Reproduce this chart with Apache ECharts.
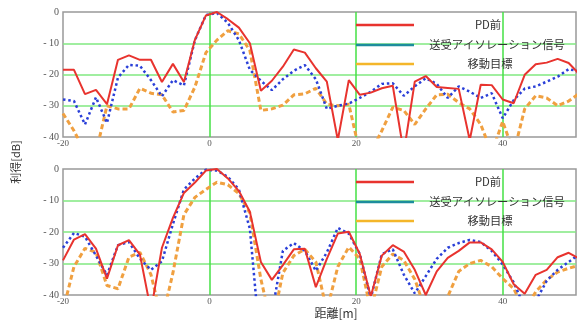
<!DOCTYPE html>
<html>
<head>
<meta charset="utf-8">
<script src="https://cdn.jsdelivr.net/npm/echarts@6/dist/echarts.min.js"></script>
<style>
  html, body { margin: 0; padding: 0; background: #fff; }
  #chart { width: 577px; height: 320px; }
</style>
</head>
<body>
<div id="chart"></div>
<script>
// sample positions along range [m]
const distance = [-20, -18.5, -17, -15.5, -14, -12.5, -11, -9.5, -8, -6.5, -5, -3.5, -2, -0.5,
  1, 2.5, 4, 5.5, 7, 8.5, 10, 11.5, 13, 14.5, 16, 17.5, 19, 20.5, 22, 23.5, 25, 26.5, 28, 29.5,
  31, 32.5, 34, 35.5, 37, 38.5, 40, 41.5, 43, 44.5, 46, 47.5, 49, 50.5];

// upper panel [dB]
const upperPd = [-18.5, -18.5, -26.3, -24.9, -29.5, -15.3, -13.9, -15.3, -15.3, -22.4, -16.6, -22.4, -8.9, -1.1,
  0, -2.3, -5, -10, -25.2, -22, -17.5, -12, -13, -18, -22.3, -41, -21.8, -26.5, -25.8, -24.4, -23.6, -45, -22.3, -20.5,
  -24, -24.3, -24.6, -41, -23.3, -23.4, -28, -29.2, -20.1, -16.7, -16.2, -15, -16.3, -20];
const upperIso = [-28, -28.5, -36, -27.3, -35.5, -21, -16.9, -17.2, -21.8, -27, -21.8, -23.5, -9, -1,
  -0.3, -3.5, -9, -18.5, -22, -25, -21.5, -18.8, -17, -21.5, -31, -30, -29.3, -27.5, -25.5, -23, -22.8, -26.8, -23.8, -21.2,
  -23, -27.5, -23.8, -25.5, -27.5, -26, -34, -28.2, -24.5, -23.8, -22.3, -20.7, -18.3, -19];
const upperTarget = [-32.5, -38, -45, -45, -30, -31, -31, -24.4, -26, -26.5, -32, -31.5, -24, -13,
  -9, -6, -7, -12.3, -31.5, -31, -29.8, -26.5, -26.2, -24.4, -29.5, -30, -29.5, -45, -45, -38, -30.5, -31.5, -36, -31,
  -26.5, -26.3, -29, -31, -36, -45, -35, -45, -31, -26.8, -27.5, -30, -28.5, -26];

// lower panel [dB]
const lowerPd = [-29, -22.4, -20.7, -25.3, -34.8, -24.2, -22.6, -27.2, -45, -25, -15.5, -7.6, -4.3, -0.5,
  0, -3, -7, -13.6, -29.5, -35.2, -30.5, -25.5, -25.3, -37.5, -28.5, -20.5, -19.9, -27, -40.5, -27.5, -24.2, -26.2, -32, -40,
  -32.5, -28.2, -26, -23.3, -23.3, -25.5, -29.5, -36.6, -39.6, -33.6, -32, -28, -26.6, -28.5];
const lowerIso = [-25, -20.3, -21.5, -27.5, -33.7, -24.2, -23.2, -28.5, -32, -29.3, -17.5, -6.5, -3, -0.2,
  -0.5, -2.5, -6.5, -19, -58, -46, -26, -23.5, -26, -32.3, -26.5, -18.7, -20.5, -27, -41, -27, -25.5, -33.5, -39.5, -34,
  -28.5, -25, -23.5, -22.5, -23.2, -26, -30.3, -36, -44, -42, -35.5, -32, -29.5, -27];
const lowerTarget = [-45, -31, -25.2, -26.5, -37, -38, -28, -26.5, -33.5, -48, -33, -14.5, -9, -6.5,
  -4.2, -5, -7.8, -14, -35, -50, -33, -27.5, -25.5, -29.5, -45, -31, -24.8, -28.5, -45, -31, -27, -29, -35, -45,
  -48, -40.5, -32.5, -30, -29, -31, -34.8, -38, -45, -39, -35.2, -32.7, -31.5, -30.5];

const legendNames = ['PD前', '送受アイソレーション信号', '移動目標'];
const xTicks = { min: -20, max: 50, interval: 20 };
const yTicks = { min: -40, max: 0, interval: 10 };

const chart = echarts.init(document.getElementById('chart'), null, { renderer: 'canvas' });

const pairs = arr => distance.map((d, i) => [d, arr[i]]);

function xAxisFor(gridIndex) {
  return {
    type: 'value',
    gridIndex,
    min: xTicks.min,
    max: xTicks.max,
    interval: xTicks.interval,
    axisLine: { show: false },
    axisTick: { show: false },
    axisLabel: {
      color: '#555',
      fontFamily: 'Liberation Serif',
      fontSize: 9,
      margin: 2,
      showMaxLabel: false
    },
    splitLine: {
      show: true,
      showMinLine: false,
      showMaxLine: false,
      lineStyle: { color: '#44e044', width: 1.5 }
    }
  };
}

function yAxisFor(gridIndex) {
  return {
    type: 'value',
    gridIndex,
    min: yTicks.min,
    max: yTicks.max,
    interval: yTicks.interval,
    axisLine: { show: false },
    axisTick: { show: false },
    axisLabel: {
      color: '#555',
      fontFamily: 'Liberation Serif',
      fontSize: 10,
      margin: 4,
      formatter: v => (v === 0 ? '0' : '- ' + Math.abs(v))
    },
    splitLine: {
      show: true,
      showMinLine: false,
      showMaxLine: false,
      lineStyle: { color: '#80e880', width: 1.5 }
    }
  };
}

const styles = [
  { color: '#e8332e', width: 2, type: 'solid' },
  { color: '#2a3fd8', width: 2.5, type: [2.5, 2.8] },
  { color: '#f0a040', width: 3, type: [5, 3] }
];

function seriesFor(gridIndex, arrays) {
  return arrays.map((arr, k) => ({
    name: legendNames[k],
    type: 'line',
    xAxisIndex: gridIndex,
    yAxisIndex: gridIndex,
    data: pairs(arr),
    showSymbol: false,
    silent: true,
    clip: true,
    z: 3 - k,
    lineStyle: styles[k]
  }));
}

const legendColors = ['#e8332e', '#1c8c9c', '#f4b62a'];
const legendRows = [[25, 45, 64], [182, 202, 221]];

function legendGraphics() {
  const out = [];
  legendRows.forEach(rows => {
    rows.forEach((y, k) => {
      out.push({
        type: 'line',
        shape: { x1: 356, y1: y, x2: 414, y2: y },
        style: { stroke: legendColors[k], lineWidth: 2.5 },
        z: 10
      });
      out.push({
        type: 'text',
        style: {
          text: legendNames[k],
          x: k === 0 ? 488 : (k === 1 ? 497 : 490),
          y: y,
          align: 'center',
          verticalAlign: 'middle',
          fill: '#333',
          font: '11.3px "Noto Sans CJK JP"'
        },
        z: 10
      });
    });
  });
  out.push({
    type: 'text',
    rotation: Math.PI / 2,
    x: 16,
    y: 162,
    style: {
      text: '利得[dB]',
      align: 'center',
      verticalAlign: 'middle',
      fill: '#333',
      font: '11px "Noto Sans CJK JP"'
    }
  });
  out.push({
    type: 'text',
    style: {
      text: '距離[m]',
      x: 336,
      y: 313,
      align: 'center',
      verticalAlign: 'middle',
      fill: '#333',
      font: '12px "Noto Sans CJK JP"'
    }
  });
  return out;
}

const option = {
  backgroundColor: '#fff',
  animation: false,
  grid: [
    { left: 63, top: 12, width: 513, height: 125, show: true, borderColor: '#999', borderWidth: 1.5, backgroundColor: '#fff' },
    { left: 63, top: 169, width: 513, height: 126, show: true, borderColor: '#999', borderWidth: 1.5, backgroundColor: '#fff' }
  ],
  xAxis: [xAxisFor(0), xAxisFor(1)],
  yAxis: [yAxisFor(0), yAxisFor(1)],
  series: [
    ...seriesFor(0, [upperPd, upperIso, upperTarget]),
    ...seriesFor(1, [lowerPd, lowerIso, lowerTarget])
  ],
  graphic: legendGraphics()
};

chart.setOption(option);
</script>
</body>
</html>
